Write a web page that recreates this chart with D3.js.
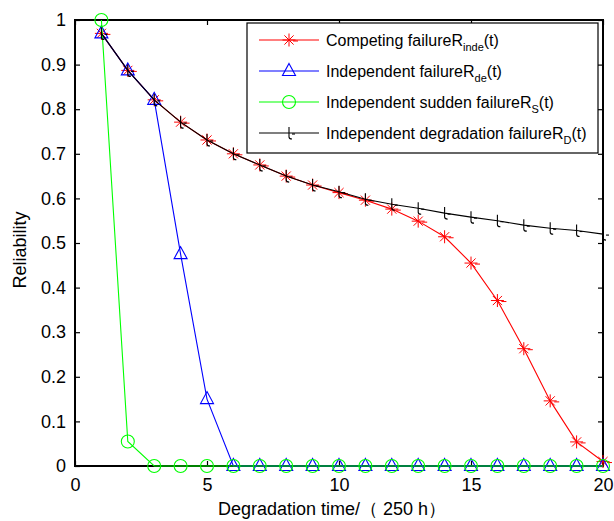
<!DOCTYPE html>
<html>
<head>
<meta charset="utf-8">
<script src="https://cdn.jsdelivr.net/npm/d3@7"></script>
<style>
  html, body { margin: 0; padding: 0; background: #fff; }
  svg { display: block; font-family: "Liberation Sans", Arial, sans-serif; }
</style>
</head>
<body>
<svg id="chart" width="614" height="521"></svg>
<script>
// Degradation time steps (units of 250 h)
const times = d3.range(1, 21);

// Reliability series
const rInde = [0.970, 0.887, 0.821, 0.771, 0.731, 0.700, 0.675, 0.650, 0.630, 0.613,
               0.596, 0.576, 0.549, 0.514, 0.455, 0.371, 0.263, 0.146, 0.054, 0.010];
const rDe   = [0.970, 0.887, 0.821, 0.475, 0.150, 0, 0, 0, 0, 0,
               0, 0, 0, 0, 0, 0, 0, 0, 0, 0];
const rS    = [1.000, 0.055, 0, 0, 0, 0, 0, 0, 0, 0,
               0, 0, 0, 0, 0, 0, 0, 0, 0, 0];
const rD    = [0.970, 0.887, 0.821, 0.771, 0.731, 0.700, 0.675, 0.650, 0.630, 0.615,
               0.598, 0.587, 0.578, 0.567, 0.558, 0.550, 0.540, 0.533, 0.528, 0.520];

const xTicks = [0, 5, 10, 15, 20];
const yTicks = [0, 0.1, 0.2, 0.3, 0.4, 0.5, 0.6, 0.7, 0.8, 0.9, 1];
const yTickLabels = ["0", "0.1", "0.2", "0.3", "0.4", "0.5", "0.6", "0.7", "0.8", "0.9", "1"];

const svg = d3.select("#chart");
const plot = { left: 75, right: 603, top: 20, bottom: 466 };

const x = d3.scaleLinear().domain([0, 20]).range([plot.left, plot.right]);
const y = d3.scaleLinear().domain([0, 1]).range([plot.bottom, plot.top]);

// Marker shapes
const markers = {
  star: (g, c) => {
    const r = 6.5;
    [0, 45, 90, 135].forEach(a => {
      const rad = a * Math.PI / 180;
      g.append("line")
        .attr("x1", -r * Math.cos(rad)).attr("y1", -r * Math.sin(rad))
        .attr("x2", r * Math.cos(rad)).attr("y2", r * Math.sin(rad))
        .attr("stroke", c).attr("stroke-width", 1);
    });
    g.append("line").attr("x1", 4).attr("x2", 9).attr("y1", 1).attr("y2", 1)
      .attr("stroke", c).attr("stroke-width", 1);
  },
  triangle: (g, c) => {
    g.append("path").attr("d", "M0,-7.5 L6.5,4.5 L-6.5,4.5 Z")
      .attr("fill", "none").attr("stroke", c).attr("stroke-width", 1.1);
  },
  circle: (g, c) => {
    g.append("circle").attr("r", 6.5)
      .attr("fill", "none").attr("stroke", c).attr("stroke-width", 1.1);
  },
  tee: (g, c) => {
    g.append("path").attr("d", "M0,-6 L0,4 Q0,6 3,6")
      .attr("fill", "none").attr("stroke", c).attr("stroke-width", 1.1);
    g.append("line").attr("x1", 3).attr("x2", 6).attr("y1", 1).attr("y2", 1)
      .attr("stroke", c).attr("stroke-width", 1.1);
  }
};

const series = [
  { values: rInde, color: "#ff0000", marker: "star",
    label: ["Competing failureR", "inde", "(t)"] },
  { values: rDe, color: "#0000ff", marker: "triangle",
    label: ["Independent failureR", "de", "(t)"] },
  { values: rS, color: "#00ff00", marker: "circle",
    label: ["Independent sudden failureR", "S", "(t)"] },
  { values: rD, color: "#000000", marker: "tee",
    label: ["Independent degradation failureR", "D", "(t)"] }
];

// Axes frame with inward ticks on all four sides
const axisFont = 18;
const gx = svg.append("g").attr("transform", `translate(0,${plot.bottom})`)
  .call(d3.axisBottom(x).tickValues(xTicks).tickSize(-5).tickPadding(12).tickFormat(d3.format("d")));
const gxTop = svg.append("g").attr("transform", `translate(0,${plot.top})`)
  .call(d3.axisTop(x).tickValues(xTicks).tickSize(-5).tickFormat(""));
const gy = svg.append("g").attr("transform", `translate(${plot.left},0)`)
  .call(d3.axisLeft(y).tickValues(yTicks).tickSize(-5).tickPadding(9)
    .tickFormat((d, i) => yTickLabels[i]));
const gyRight = svg.append("g").attr("transform", `translate(${plot.right},0)`)
  .call(d3.axisRight(y).tickValues(yTicks).tickSize(-5).tickFormat(""));

[gx, gxTop, gy, gyRight].forEach(g => {
  g.select(".domain").remove();
  g.selectAll(".tick line").attr("stroke", "#000").attr("stroke-width", 1.2);
  g.selectAll("text").attr("font-size", axisFont).attr("fill", "#000")
    .attr("font-family", "Liberation Sans, Arial, sans-serif");
});

svg.append("rect")
  .attr("x", plot.left).attr("y", plot.top)
  .attr("width", plot.right - plot.left).attr("height", plot.bottom - plot.top)
  .attr("fill", "none").attr("stroke", "#000").attr("stroke-width", 2);

// Series lines and markers
const line = d3.line().x((d, i) => x(times[i])).y(d => y(d));
series.forEach(s => {
  svg.append("path").datum(s.values)
    .attr("d", line).attr("fill", "none")
    .attr("stroke", s.color).attr("stroke-width", 1.1);
  s.values.forEach((v, i) => {
    const g = svg.append("g").attr("transform", `translate(${x(times[i])},${y(v)})`);
    markers[s.marker](g, s.color);
  });
});

// Axis titles
svg.append("text")
  .attr("transform", `translate(26,250) rotate(-90)`)
  .attr("text-anchor", "middle")
  .attr("font-size", 18)
  .text("Reliability");

svg.append("text")
  .attr("x", 332).attr("y", 515)
  .attr("text-anchor", "middle")
  .attr("font-size", 18)
  .text("Degradation time/（ 250 h）");

// Legend
const lg = svg.append("g");
lg.append("rect")
  .attr("x", 247).attr("y", 23).attr("width", 351).attr("height", 130)
  .attr("fill", "#fff").attr("stroke", "#000").attr("stroke-width", 1.2);
series.forEach((s, i) => {
  const cy = 40 + i * 31;
  lg.append("line").attr("x1", 259).attr("x2", 319).attr("y1", cy).attr("y2", cy)
    .attr("stroke", s.color).attr("stroke-width", 1.1);
  markers[s.marker](lg.append("g").attr("transform", `translate(289,${cy})`), s.color);
  const t = lg.append("text").attr("x", 326).attr("y", cy + 6).attr("font-size", 16);
  t.append("tspan").text(s.label[0]);
  t.append("tspan").attr("font-size", 11).attr("dy", 5).text(s.label[1]);
  t.append("tspan").attr("dy", -5).text(s.label[2]);
});
</script>
</body>
</html>
